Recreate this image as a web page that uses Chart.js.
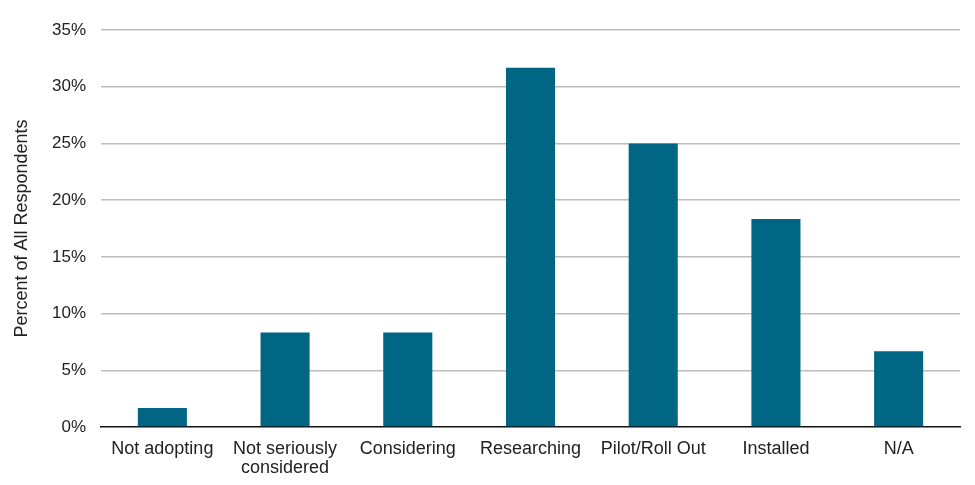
<!DOCTYPE html>
<html>
<head>
<meta charset="utf-8">
<script src="https://cdn.jsdelivr.net/npm/chart.js@4/dist/chart.umd.min.js"></script>
<style>
  html, body { margin: 0; padding: 0; background: #fff; }
  #wrap { width: 975px; height: 485px; }
</style>
</head>
<body>
<div id="wrap"><canvas id="chart" width="975" height="485"></canvas></div>
<script>
// adoption stage data
const categories = ['Not adopting', ['Not seriously', 'considered'], 'Considering', 'Researching', 'Pilot/Roll Out', 'Installed', 'N/A'];
const percentValues = [1.67, 8.33, 8.33, 31.67, 25, 18.33, 6.67];
const yTicks = [0, 5, 10, 15, 20, 25, 30, 35];

const FONT = '"Liberation Sans", Arial, sans-serif';

new Chart(document.getElementById('chart'), {
    type: 'bar',
    data: {
        labels: categories,
        datasets: [{
            data: percentValues,
            backgroundColor: '#016684',
            barPercentage: 0.4,
            categoryPercentage: 1
        }]
    },
    options: {
        responsive: false,
        animation: false,
        layout: { padding: { top: 30, right: 15, bottom: 0, left: 11 } },
        plugins: { legend: { display: false }, tooltip: { enabled: false } },
        scales: {
            x: {
                grid: { display: false, drawTicks: false },
                border: { display: true, color: '#111', width: 1.5 },
                ticks: { color: '#222', padding: 13, font: { family: FONT, size: 18, lineHeight: 1.05 }, maxRotation: 0 },
                afterFit: s => { s.height = 58; }
            },
            y: {
                min: 0,
                max: 35,
                afterBuildTicks: s => { s.ticks = yTicks.map(v => ({ value: v })); },
                grid: {
                    color: c => c.tick && c.tick.value === 0 ? 'rgba(0,0,0,0)' : '#bdbdbd',
                    lineWidth: 1.5,
                    drawTicks: false
                },
                border: { display: false },
                ticks: {
                    color: '#222',
                    padding: 15,
                    font: { family: FONT, size: 17 },
                    callback: v => v + '%'
                },
                title: {
                    display: true,
                    text: 'Percent of All Respondents',
                    color: '#222',
                    font: { family: FONT, size: 18 },
                    padding: 0
                },
                afterFit: s => { s.width = 90; }
            }
        }
    }
});
</script>
</body>
</html>
